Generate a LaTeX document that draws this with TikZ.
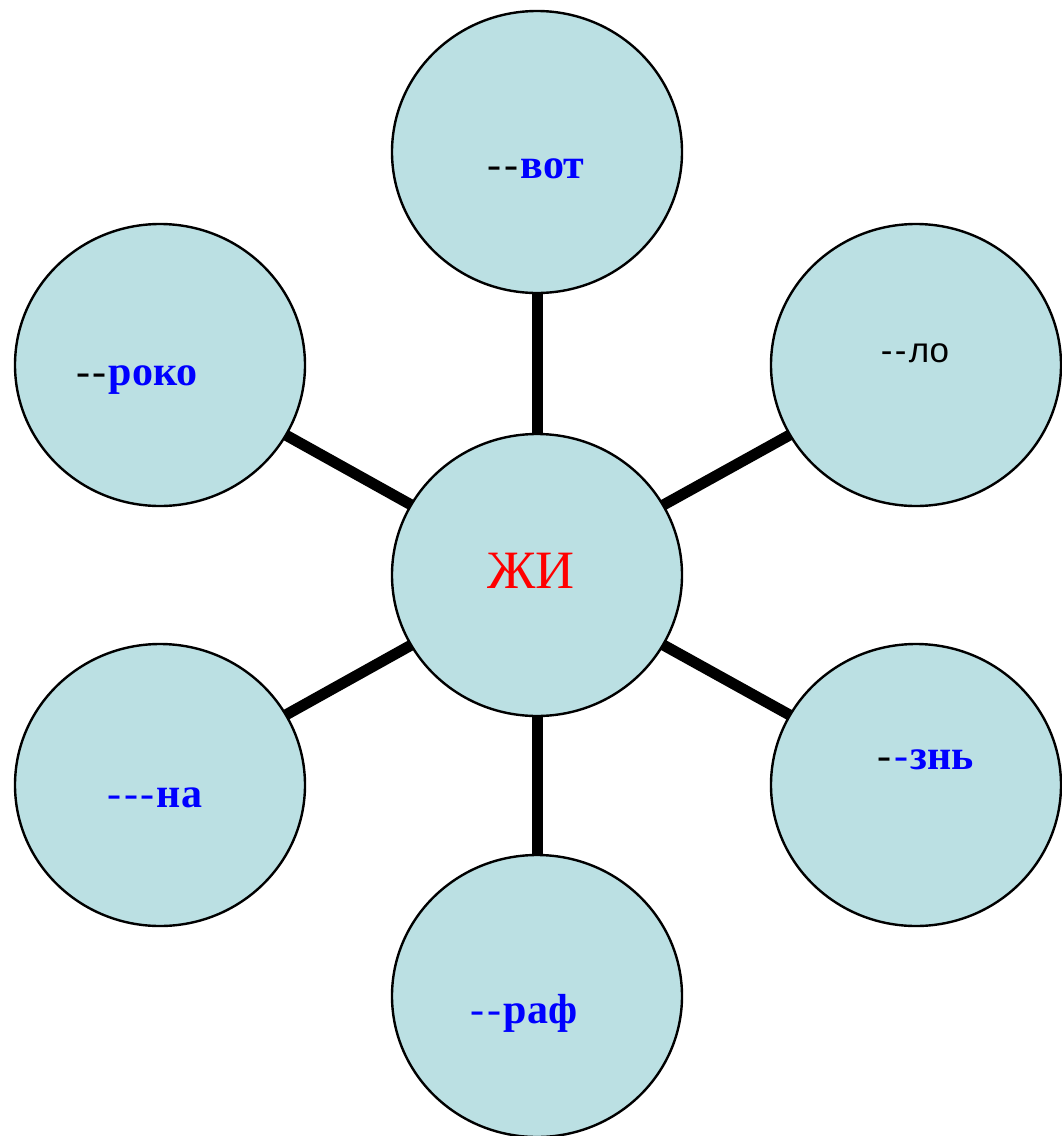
\documentclass[tikz,border=0pt]{standalone}
\usepackage{fontspec}
\setmainfont{Liberation Serif}
\newfontfamily\arialfont{Liberation Sans}
\usetikzlibrary{shapes.geometric,backgrounds}
\definecolor{bubblefill}{RGB}{187,224,227}
\definecolor{pureblue}{RGB}{0,0,255}
\definecolor{purered}{RGB}{255,0,0}
\newcommand{\hy}{\mbox{\mdseries-}\kern1.2pt}
\tikzset{
  bubble/.style={ellipse,draw=black,line width=1.2pt,fill=bubblefill,
    minimum width=145pt,minimum height=141pt,inner sep=0pt},
  spoke/.style={line width=5.5pt},
  syl/.style={anchor=base,inner sep=0pt,text=pureblue,
    font=\fontsize{21}{21}\selectfont\bfseries}
}

\begin{document}
\begin{tikzpicture}[x=0.5pt,y=-0.5pt]
    \useasboundingbox (0,0) rectangle (1061,1136);
    \node[bubble] (hub) at (537,575) {};
    \node[bubble] (vot) at (537,152) {};
    \node[bubble] (roko) at (160,365) {};
    \node[bubble] (lo) at (916,365) {};
    \node[bubble] (na) at (160,785) {};
    \node[bubble] (zn) at (916,785) {};
    \node[bubble] (raf) at (537,996) {};
    \begin{scope}[on background layer]
      \draw[spoke] (hub.center) -- (vot.center);
      \draw[spoke] (hub.center) -- (roko.center);
      \draw[spoke] (hub.center) -- (lo.center);
      \draw[spoke] (hub.center) -- (na.center);
      \draw[spoke] (hub.center) -- (zn.center);
      \draw[spoke] (hub.center) -- (raf.center);
    \end{scope}
    \node[anchor=base,inner sep=0pt,text=purered,font=\fontsize{27}{27}\selectfont] (hubtext) at (531,588) {ЖИ};
    \node[syl] (vottext) at (536,178) {\textcolor{black}{\hy\hy}вот};
    \node[syl] (rokotext) at (137,385) {\textcolor{black}{\hy\hy}роко};
    \node[anchor=base,inner sep=0pt,font=\arialfont\fontsize{17.5}{17.5}\selectfont] (lotext) at (915,362) {\hy\hy ло};
    \node[syl] (natext) at (155,807) {\hy\hy\hy на};
    \node[syl] (zntext) at (926,769) {\textcolor{black}{\hy}\hy знь};
    \node[syl] (raftext) at (524,1023) {\hy\hy раф};
\end{tikzpicture}
\end{document}
